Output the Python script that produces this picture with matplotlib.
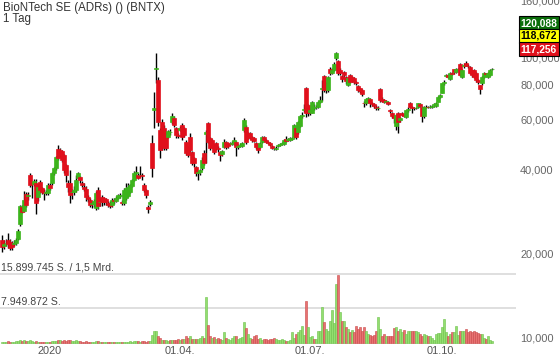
import numpy as np
import pandas as pd
import matplotlib
matplotlib.use("Agg")
import matplotlib.pyplot as plt
import matplotlib.transforms as mtransforms
from matplotlib.ticker import FuncFormatter, NullLocator

plt.rcParams['font.family'] = ['Liberation Sans', 'DejaVu Sans']

# trading days shown (one candle per business day)
dates = pd.bdate_range('2019-11-28', '2020-11-05')

opens = [22.4, 21.2, 21.8, 22.4, 22.0, 21.8, 21.6, 21.7, 22.6, 25.4, 29.2, 28.4, 32.6, 32.0, 38.0, 35.6,
         35.4, 35.6, 31.7, 35.9, 34.1, 33.0, 32.8, 32.8, 35.0, 35.6, 38.6, 40.2, 47.0, 46.6, 46.2, 44.7,
         41.2, 35.6, 35.6, 33.0, 33.2, 33.6, 37.2, 37.4, 35.6, 34.4, 34.0, 31.7, 30.9, 29.9, 30.0, 29.0,
         33.8, 30.4, 31.7, 31.4, 31.2, 30.2, 30.2, 29.7, 30.9, 30.8, 31.6, 32.0, 30.6, 30.2, 31.4, 32.0,
         33.0, 34.8, 36.5, 38.8, 38.0, 38.0, 38.0, 35.0, 33.6, 29.3, 29.9, 49.4, 64.8, 90.6, 82.8, 54.9,
         58.7, 55.8, 53.0, 52.0, 54.0, 58.7, 60.6, 55.8, 52.7, 55.2, 57.5, 55.8, 49.8, 47.8, 52.0, 45.9,
         43.7, 40.6, 38.8, 38.9, 40.2, 45.5, 53.4, 58.2, 51.5, 50.6, 48.6, 49.4, 47.6, 45.9, 45.2, 47.8,
         49.8, 49.0, 49.4, 49.3, 49.4, 49.8, 48.0, 48.4, 48.2, 54.9, 56.5, 53.6, 53.6, 52.0, 51.5, 49.4,
         48.2, 47.8, 49.8, 52.0, 50.8, 50.0, 49.4, 48.2, 47.6, 47.2, 48.4, 48.6, 49.2, 49.2, 51.2, 50.6,
         50.8, 51.0, 52.0, 55.8, 54.0, 56.9, 61.6, 65.2, 77.5, 67.5, 64.0, 63.6, 66.2, 66.4, 66.6, 69.6,
         77.0, 85.6, 80.8, 76.3, 91.3, 88.0, 90.0, 99.2, 96.8, 89.9, 85.6, 88.4, 84.9, 79.5, 86.3, 84.9,
         84.2, 81.5, 79.0, 77.5, 76.3, 68.8, 68.6, 70.9, 70.9, 69.0, 68.2, 66.8, 65.8, 76.9, 71.0, 70.3,
         69.6, 69.2, 65.0, 63.4, 61.8, 56.9, 63.2, 59.6, 63.4, 62.2, 61.4, 64.7, 68.6, 66.4, 66.2, 66.0,
         66.6, 68.0, 66.6, 61.8, 66.4, 66.6, 66.4, 66.8, 67.4, 67.0, 69.6, 72.0, 74.9, 80.8, 86.2, 86.3,
         83.5, 87.7, 90.6, 88.4, 90.6, 95.0, 84.9, 93.4, 95.9, 93.6, 92.6, 89.9, 89.9, 87.7, 83.0, 79.5,
         80.8, 84.9, 87.7, 85.2, 86.3, 91.0]
highs = [23.2, 22.3, 22.6, 23.6, 22.6, 22.2, 22.3, 22.7, 24.5, 29.7, 29.8, 33.5, 33.2, 33.0, 38.8, 36.0,
         37.0, 36.8, 35.5, 36.5, 34.6, 34.0, 33.8, 35.6, 35.6, 39.0, 40.8, 44.6, 48.6, 47.4, 46.8, 45.2,
         41.6, 36.5, 39.6, 34.0, 34.8, 38.0, 39.0, 37.8, 36.2, 35.8, 34.8, 32.4, 31.4, 30.8, 31.2, 33.4,
         34.4, 31.4, 32.2, 31.8, 31.6, 30.8, 30.8, 31.4, 31.6, 32.0, 32.6, 32.8, 31.0, 34.2, 35.6, 35.6,
         35.4, 37.0, 39.2, 41.0, 38.6, 41.0, 38.6, 35.6, 34.0, 29.8, 31.0, 52.7, 75.0, 104.0, 85.0, 56.0,
         60.2, 57.5, 54.0, 55.2, 55.4, 63.6, 62.0, 56.6, 53.6, 56.8, 58.2, 56.4, 50.6, 48.2, 53.6, 46.4,
         44.2, 41.0, 39.4, 40.0, 44.0, 46.6, 55.0, 59.0, 52.0, 51.0, 49.0, 50.0, 48.2, 46.4, 46.6, 51.0,
         50.4, 49.6, 50.0, 50.2, 52.0, 50.4, 49.0, 49.4, 49.8, 61.0, 57.2, 54.2, 54.0, 52.6, 52.0, 49.8,
         48.6, 49.8, 52.6, 52.6, 51.2, 50.4, 50.0, 48.6, 48.0, 48.2, 49.0, 49.6, 50.0, 51.0, 52.4, 51.8,
         52.0, 52.0, 57.8, 56.4, 59.2, 62.2, 64.0, 68.0, 78.5, 68.4, 66.0, 70.0, 68.0, 67.6, 70.2, 72.6,
         83.0, 86.4, 81.6, 85.8, 92.4, 92.0, 96.0, 104.5, 98.0, 92.0, 86.4, 89.2, 85.6, 85.0, 87.4, 85.6,
         85.0, 82.4, 79.6, 78.0, 77.0, 70.0, 71.6, 72.0, 71.6, 69.6, 68.8, 67.4, 67.0, 77.8, 72.0, 70.8,
         70.4, 69.8, 65.6, 63.8, 62.4, 62.8, 63.8, 61.2, 64.0, 63.0, 65.2, 66.8, 69.2, 67.2, 66.8, 66.8,
         69.0, 68.6, 67.2, 67.2, 67.4, 67.2, 67.4, 67.8, 68.6, 69.2, 72.6, 73.8, 81.4, 83.0, 87.0, 87.0,
         88.4, 88.6, 91.0, 91.4, 92.0, 95.8, 90.6, 95.2, 96.8, 94.6, 93.2, 90.4, 90.6, 88.4, 83.6, 80.0,
         85.6, 88.4, 88.2, 88.6, 91.0, 92.0]
lows = [20.3, 20.8, 21.2, 20.9, 20.5, 20.6, 21.2, 21.4, 22.4, 25.0, 27.8, 28.0, 29.2, 31.0, 34.4, 31.4,
        34.8, 27.6, 30.8, 32.8, 32.6, 31.0, 32.2, 32.4, 33.7, 35.2, 38.2, 39.8, 43.2, 44.0, 42.2, 38.8,
        36.0, 33.0, 30.2, 31.2, 32.4, 33.2, 36.8, 35.8, 34.6, 33.4, 30.8, 30.6, 29.2, 29.0, 29.2, 28.6,
        28.8, 29.6, 29.6, 29.8, 29.8, 29.2, 29.0, 29.2, 30.0, 30.4, 31.2, 31.6, 29.8, 29.8, 31.0, 31.8,
        32.8, 34.4, 36.2, 37.6, 36.8, 37.4, 36.6, 33.0, 31.6, 27.8, 29.6, 37.6, 55.8, 81.0, 57.0, 43.7,
        46.6, 46.6, 46.6, 51.4, 53.0, 58.0, 56.5, 51.5, 51.4, 54.6, 50.6, 52.0, 44.8, 44.0, 46.0, 41.2,
        40.6, 37.8, 36.5, 38.2, 39.6, 41.2, 42.0, 49.4, 46.8, 47.6, 45.2, 46.6, 46.0, 42.8, 44.6, 47.4,
        47.2, 47.6, 48.6, 48.6, 48.8, 44.4, 47.2, 47.8, 47.8, 54.0, 49.0, 51.0, 51.2, 50.0, 49.8, 47.0,
        45.6, 47.4, 49.4, 50.2, 49.6, 49.0, 48.4, 47.2, 46.8, 46.8, 48.0, 48.2, 48.8, 48.8, 50.0, 50.2,
        50.4, 50.6, 51.6, 51.0, 53.4, 56.4, 60.8, 63.8, 61.4, 61.8, 62.2, 63.2, 65.2, 65.6, 66.0, 69.0,
        70.0, 75.6, 74.8, 75.6, 86.4, 87.0, 89.5, 98.0, 86.4, 86.8, 82.0, 85.0, 80.4, 78.8, 80.8, 81.6,
        80.4, 79.6, 75.4, 74.8, 72.8, 66.4, 67.8, 69.6, 66.8, 67.2, 66.0, 65.0, 64.8, 69.4, 69.4, 69.0,
        68.8, 67.6, 63.4, 60.8, 58.4, 55.2, 53.8, 58.8, 61.6, 61.4, 60.8, 64.0, 66.0, 63.6, 65.2, 65.4,
        66.0, 66.6, 58.7, 60.8, 65.8, 66.0, 65.8, 66.2, 66.8, 66.6, 69.2, 71.6, 74.4, 80.0, 85.2, 84.2,
        82.8, 86.6, 87.6, 88.0, 90.0, 85.6, 84.2, 92.0, 93.0, 91.6, 87.0, 85.4, 84.2, 82.0, 80.4, 74.0,
        80.0, 84.2, 86.6, 84.6, 85.6, 90.2]
closes = [21.0, 21.6, 21.8, 21.6, 20.9, 21.0, 21.7, 22.4, 24.1, 29.5, 28.2, 31.0, 29.8, 32.2, 35.0, 35.4,
          36.2, 30.2, 34.4, 33.6, 33.0, 32.8, 33.0, 35.0, 34.1, 38.6, 40.2, 44.0, 43.7, 44.7, 43.0, 39.6,
          38.0, 34.4, 32.2, 33.1, 33.6, 36.5, 38.6, 36.5, 35.0, 34.0, 31.7, 31.2, 29.7, 30.2, 30.8, 32.8,
          29.4, 30.6, 30.4, 30.4, 30.6, 29.8, 29.6, 30.9, 30.8, 31.6, 32.2, 32.3, 30.2, 33.6, 34.1, 34.4,
          35.0, 36.5, 38.6, 39.0, 37.2, 38.1, 37.8, 33.6, 32.2, 28.9, 30.6, 40.2, 66.2, 91.6, 58.7, 46.6,
          48.0, 47.4, 47.4, 54.6, 54.2, 61.6, 57.2, 52.7, 52.5, 56.2, 51.9, 52.7, 45.5, 44.7, 46.6, 41.9,
          41.9, 38.6, 38.9, 39.6, 43.0, 41.9, 54.0, 50.0, 47.4, 48.0, 45.9, 47.4, 47.0, 44.7, 46.2, 49.8,
          47.8, 48.2, 49.3, 49.6, 50.6, 47.8, 48.4, 48.8, 49.4, 59.6, 50.0, 51.5, 52.0, 50.6, 50.4, 47.8,
          46.6, 49.4, 52.0, 50.6, 50.0, 49.4, 48.8, 47.6, 47.4, 47.6, 48.6, 49.0, 49.4, 50.6, 50.4, 51.2,
          51.5, 51.6, 57.2, 52.0, 58.7, 61.6, 62.5, 65.4, 63.2, 63.6, 65.0, 69.2, 66.4, 66.8, 69.6, 70.4,
          77.8, 76.3, 76.3, 84.9, 87.7, 90.0, 95.0, 103.4, 87.7, 87.7, 83.6, 86.3, 82.2, 84.2, 81.5, 82.8,
          81.5, 80.8, 76.3, 76.0, 73.8, 68.6, 70.9, 71.4, 68.6, 68.0, 67.0, 65.8, 66.2, 70.3, 70.0, 69.6,
          69.8, 68.2, 64.2, 61.6, 60.6, 62.2, 58.7, 60.6, 62.2, 62.0, 64.7, 65.6, 66.6, 66.2, 65.8, 66.2,
          68.6, 67.2, 61.8, 66.6, 66.8, 66.4, 66.8, 67.2, 68.0, 68.6, 72.0, 73.2, 80.8, 82.0, 86.4, 84.9,
          87.7, 87.0, 88.4, 90.6, 91.0, 86.3, 89.9, 93.8, 93.6, 93.0, 87.7, 86.3, 84.9, 82.8, 81.6, 76.9,
          84.9, 87.7, 87.2, 88.0, 90.4, 91.2]
# volume in million shares
volumes = [0.3, 0.2, 0.3, 0.4, 0.3, 0.2, 0.3, 0.4, 0.5, 0.7, 0.5, 0.6, 0.5, 0.4, 0.7, 0.4,
           0.3, 0.4, 0.3, 0.3, 0.2, 0.3, 0.2, 0.3, 0.3, 0.4, 0.4, 0.5, 0.7, 0.6, 0.5, 0.6,
           0.5, 0.6, 0.7, 0.5, 0.5, 0.6, 0.4, 0.5, 0.3, 0.3, 0.4, 0.3, 0.3, 0.2, 0.2, 0.4,
           0.4, 0.3, 0.2, 0.3, 0.2, 0.2, 0.3, 0.2, 0.2, 0.3, 0.3, 0.2, 0.2, 0.3, 0.3, 0.3,
           0.4, 0.3, 0.4, 0.5, 0.4, 0.3, 0.4, 0.5, 0.3, 0.4, 0.5, 1.9, 2.8, 2.8, 1.5, 1.15,
           0.7, 0.6, 0.7, 0.5, 0.6, 0.6, 0.8, 0.7, 0.9, 0.8, 0.9, 1.0, 1.5, 1.15, 1.5, 0.95,
           0.9, 0.9, 1.0, 1.15, 1.5, 1.15, 10.7, 4.2, 1.5, 1.15, 1.3, 1.0, 1.15, 0.9, 0.7, 2.5,
           1.15, 0.9, 0.7, 1.15, 1.6, 1.6, 1.0, 1.15, 1.3, 4.9, 3.5, 2.1, 1.15, 0.9, 1.5, 1.8,
           0.9, 1.15, 0.7, 0.9, 1.0, 0.7, 1.0, 0.9, 1.15, 0.9, 0.8, 0.7, 0.9, 0.7, 0.55, 0.55,
           0.6, 2.6, 1.15, 2.1, 2.6, 3.0, 3.9, 1.9, 9.75, 3.8, 1.3, 1.5, 1.0, 0.9, 2.8, 2.8,
           8.4, 4.8, 3.2, 2.8, 5.0, 7.6, 4.5, 13.6, 15.7, 7.1, 5.0, 5.0, 3.8, 3.2, 2.5, 3.0,
           2.5, 4.0, 3.2, 3.8, 2.7, 3.6, 2.7, 2.1, 1.9, 1.7, 1.9, 2.8, 6.1, 3.2, 1.5, 2.1,
           1.7, 1.5, 1.7, 1.5, 3.5, 3.8, 2.8, 3.2, 2.5, 3.1, 2.1, 2.8, 2.8, 2.7, 2.8, 2.8,
           2.5, 2.1, 1.7, 2.1, 1.9, 1.7, 1.5, 1.15, 0.7, 2.1, 2.2, 2.2, 3.6, 5.5, 2.5, 1.6,
           2.1, 2.5, 2.5, 4.0, 1.9, 2.7, 2.7, 2.7, 3.2, 2.5, 2.8, 2.5, 2.8, 2.5, 2.4, 2.1,
           2.1, 1.15, 0.9, 1.5, 0.7, 0.5]

price_ticks = [10, 20, 40, 60, 80, 100, 160]
date_ticks = ['2020-01-01', '2020-04-01', '2020-07-01', '2020-10-01']
date_labels = ['2020', '01.04.', '01.07.', '01.10.']
vol_levels = [15.899745, 7.949872]
vol_texts = ['15.899.745 S. / 1,5 Mrd.', '7.949.872 S.']
quotes = ['120,088', '118,672', '117,256']


def draw_chart():
    o = np.array(opens)
    h = np.array(highs)
    l = np.array(lows)
    c = np.array(closes)
    v = np.array(volumes)
    idx = np.arange(len(c))

    up = c >= o
    col = np.where(up, '#3cb41c', '#e0101c')
    prev = np.concatenate([[c[0]], c[:-1]])
    vup = c >= prev
    vcol = np.where(vup, '#93de70', '#e87272')
    vedge = np.where(vup, '#6cc048', '#c84848')

    fig = plt.figure(figsize=(5.6, 3.63), dpi=100)
    pos = [0, 0, 516 / 560, 1]

    # volume panel (linear), drawn underneath
    axv = fig.add_axes(pos)
    axv.bar(idx, v, width=0.9, color=vcol, edgecolor=vedge, linewidth=0.4)
    axv.set_ylim(-4.61, 79.04)
    tr = mtransforms.blended_transform_factory(axv.transAxes, axv.transData)
    for lvl, txt in zip(vol_levels, vol_texts):
        axv.axhline(lvl, color='#d9d9d9', lw=1.2, zorder=0)
        axv.text(0.002, lvl + 0.45, txt, transform=tr, fontsize=7.6,
                 color='#444444', va='bottom', ha='left')
    axv.tick_params(axis='both', length=0, labelbottom=False, labelleft=False)
    for s in axv.spines.values():
        s.set_visible(False)

    # price panel (log)
    ax = fig.add_axes(pos, sharex=axv)
    ax.patch.set_alpha(0)
    ax.set_yscale('log')
    ax.vlines(idx, l, h, color='black', lw=1.0, zorder=2)
    ax.bar(idx, np.abs(c - o), bottom=np.minimum(o, c), width=1.6,
           color=col, edgecolor=col, linewidth=0.5, zorder=3)
    ax.set_ylim(8.13, 160.3)
    ax.set_xlim(-1, 257)

    ax.yaxis.tick_right()
    ax.set_yticks(price_ticks)
    ax.yaxis.set_minor_locator(NullLocator())
    ax.yaxis.set_major_formatter(FuncFormatter(lambda val, p: f'{val:.3f}'.replace('.', ',')))
    ax.tick_params(axis='y', length=0, pad=3, labelsize=7.9, labelcolor='#666666')

    xpos = [dates.searchsorted(pd.Timestamp(d)) for d in date_ticks]
    ax.set_xticks(xpos)
    ax.set_xticklabels(date_labels)
    ax.tick_params(axis='x', length=0, pad=-12, labelsize=7.9, labelcolor='#555555')
    for s in ax.spines.values():
        s.set_visible(False)

    fig.text(3 / 560, 1 - 8 / 363, 'BioNTech SE (ADRs) () (BNTX)', fontsize=8.3,
             color='#333333', va='center', ha='left')
    fig.text(3 / 560, 1 - 19 / 363, '1 Tag', fontsize=8.3, color='#333333',
             va='center', ha='left')

    # last quote boxes
    box_style = [('#0b6e0b', 'white'), ('#ffff00', 'black'), ('#e0101c', 'white')]
    for k, (txt, (bg, fg)) in enumerate(zip(quotes, box_style)):
        fig.text(520.5 / 560, 1 - (23 + 13 * k) / 363, txt, fontsize=7.4, fontweight='bold',
                 color=fg, va='center', ha='left', zorder=10,
                 bbox=dict(boxstyle='square,pad=0.18', fc=bg, ec='black', lw=0.8))

    fig.savefig('out.png', dpi=100)


if __name__ == '__main__':
    draw_chart()
